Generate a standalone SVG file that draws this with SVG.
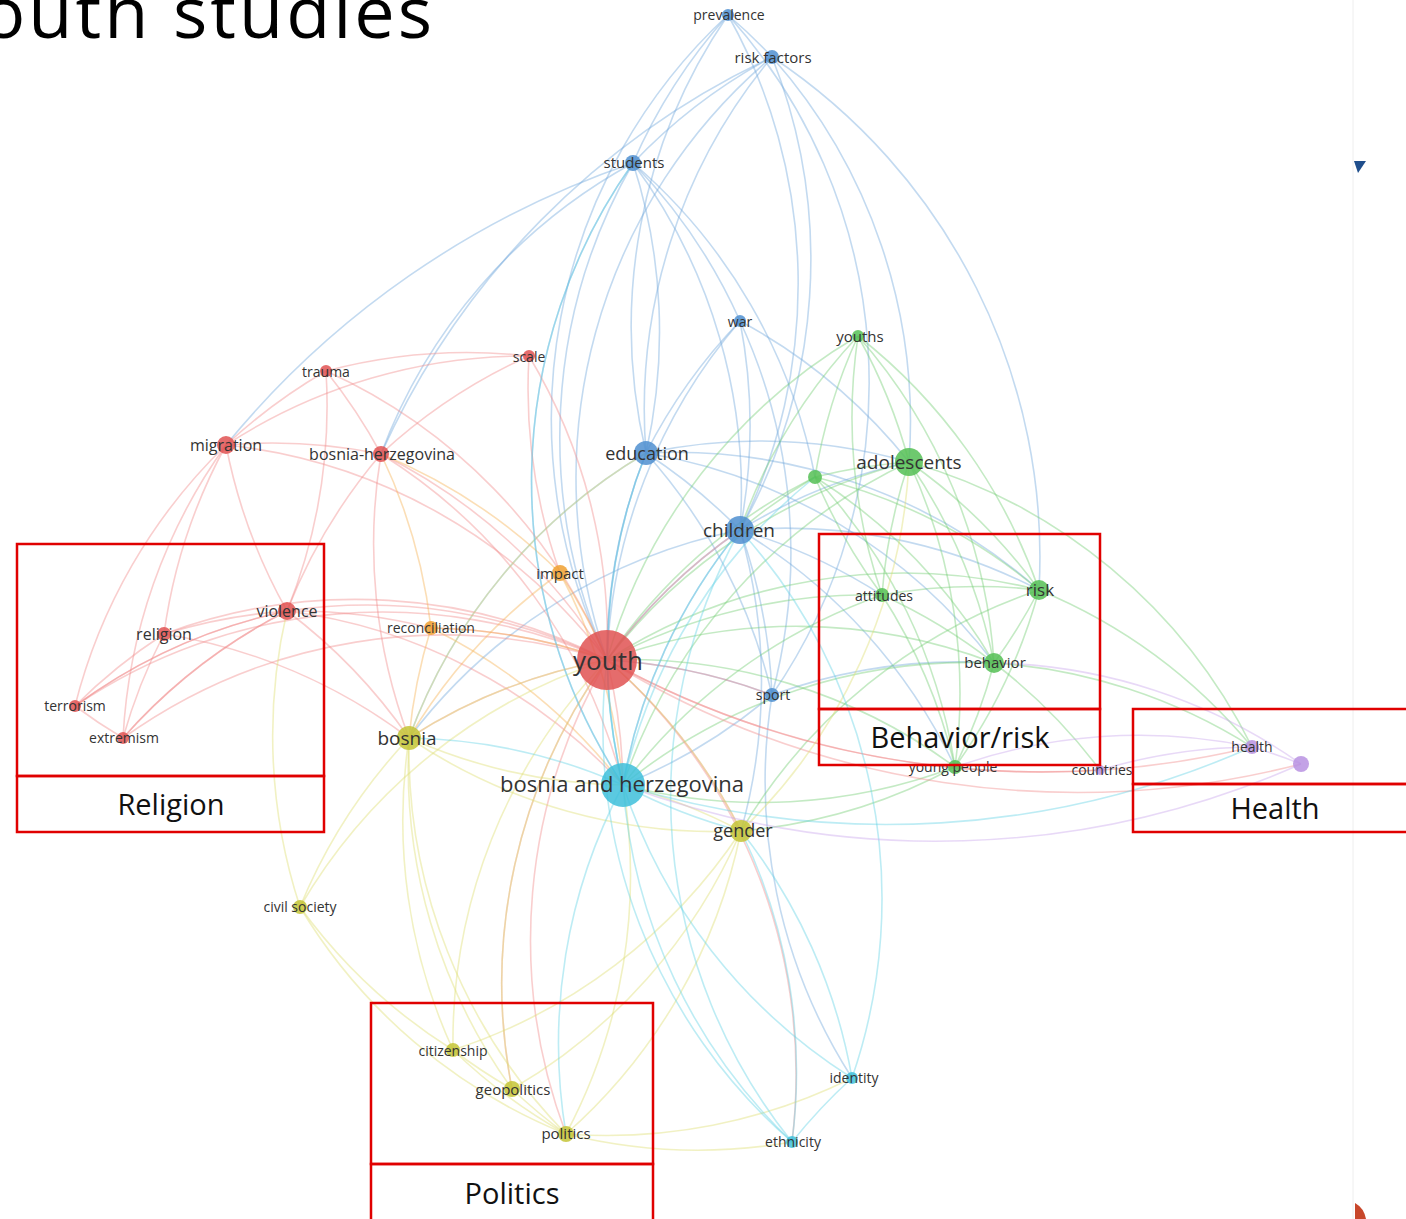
<svg xmlns="http://www.w3.org/2000/svg" width="1406" height="1219" viewBox="0 0 1406 1219">
<style>
.e{fill:none;stroke-width:1.6;stroke-opacity:0.42}
.b{stroke:#6fa8dc}.g{stroke:#72cc72}.r{stroke:#f08a8a}.o{stroke:#f5b050}.y{stroke:#dede70}.c{stroke:#62d2e4}.p{stroke:#c8a4ec}
.nb{fill:#4f8fd0}.ng{fill:#55bf55}.nr{fill:#e05252}.no{fill:#f0a030}.ny{fill:#c4c436}.nc{fill:#3ec0da}.np{fill:#b892e2}
circle{fill-opacity:0.85}
text{font-family:"Open Sans","Noto Sans","DejaVu Sans",sans-serif;fill:#333;text-anchor:middle}
.box{fill:none;stroke:#e00000;stroke-width:2.5}
.bl{font-family:"Open Sans","Noto Sans",sans-serif;font-size:29px;fill:#111}
</style>
<rect width="1406" height="1219" fill="#fff"/>
<line x1="1353" y1="0" x2="1353" y2="1219" stroke="#eeeeee" stroke-width="1"/>
<text x="-18" y="38" letter-spacing="3" style="font-size:72px;fill:#000;text-anchor:start;font-family:'Open Sans','Noto Sans',sans-serif">outh studies</text>
<g id="connectors">
<path class="e b" d="M728 15 A550 550 0 0 1 772 57"/>
<path class="e b" d="M728 15 A550 550 0 0 0 633 163"/>
<path class="e b" d="M728 15 A550 550 0 0 1 740 530"/>
<path class="e b" d="M728 15 A550 550 0 0 0 646 453"/>
<path class="e b" d="M728 15 A550 550 0 0 0 607 660"/>
<path class="e b" d="M728 15 A550 550 0 0 1 772 695"/>
<path class="e b" d="M772 57 A550 550 0 0 0 633 163"/>
<path class="e b" d="M772 57 A550 550 0 0 0 646 453"/>
<path class="e b" d="M772 57 A550 550 0 0 1 740 530"/>
<path class="e b" d="M772 57 A600 600 0 0 1 1039 590"/>
<path class="e b" d="M772 57 A550 550 0 0 1 909 462"/>
<path class="e b" d="M772 57 A550 550 0 0 0 607 660"/>
<path class="e b" d="M772 57 A800 800 0 0 0 381 454"/>
<path class="e b" d="M633 163 A550 550 0 0 0 607 660"/>
<path class="e b" d="M633 163 A550 550 0 0 1 646 453"/>
<path class="e b" d="M633 163 A550 550 0 0 1 740 530"/>
<path class="e b" d="M633 163 A550 550 0 0 0 381 454"/>
<path class="e b" d="M633 163 A550 550 0 0 0 623 785"/>
<path class="e b" d="M633 163 A550 550 0 0 1 740 321"/>
<path class="e b" d="M633 163 A900 900 0 0 0 226 445"/>
<path class="e b" d="M633 163 A550 550 0 0 1 815 477"/>
<path class="e b" d="M740 321 A550 550 0 0 0 646 453"/>
<path class="e b" d="M740 321 A550 550 0 0 1 740 530"/>
<path class="e b" d="M740 321 A550 550 0 0 0 607 660"/>
<path class="e b" d="M740 321 A550 550 0 0 1 909 462"/>
<path class="e b" d="M740 321 A550 550 0 0 1 772 695"/>
<path class="e b" d="M646 453 A550 550 0 0 0 607 660"/>
<path class="e b" d="M646 453 A550 550 0 0 1 740 530"/>
<path class="e b" d="M646 453 A550 550 0 0 0 623 785"/>
<path class="e b" d="M646 453 A550 550 0 0 1 909 462"/>
<path class="e b" d="M646 453 A550 550 0 0 1 1039 590"/>
<path class="e b" d="M646 453 A550 550 0 0 0 409 738"/>
<path class="e b" d="M646 453 A550 550 0 0 1 994 663"/>
<path class="e b" d="M740 530 A550 550 0 0 0 607 660"/>
<path class="e b" d="M740 530 A550 550 0 0 1 909 462"/>
<path class="e b" d="M740 530 A550 550 0 0 0 623 785"/>
<path class="e b" d="M740 530 A550 550 0 0 1 772 695"/>
<path class="e b" d="M740 530 A550 550 0 0 1 1039 590"/>
<path class="e b" d="M740 530 A550 550 0 0 1 882 595"/>
<path class="e b" d="M740 530 A550 550 0 0 1 955 767"/>
<path class="e b" d="M740 530 A550 550 0 0 0 409 738"/>
<path class="e b" d="M740 530 A550 550 0 0 1 741 831"/>
<path class="e b" d="M772 695 A550 550 0 0 0 607 660"/>
<path class="e b" d="M772 695 A550 550 0 0 1 623 785"/>
<path class="e b" d="M772 695 A550 550 0 0 0 646 453"/>
<path class="e b" d="M772 695 A550 550 0 0 1 994 663"/>
<path class="e b" d="M772 695 A550 550 0 0 0 852 1078"/>
<path class="e g" d="M858 336 A550 550 0 0 1 909 462"/>
<path class="e g" d="M858 336 A550 550 0 0 0 815 477"/>
<path class="e g" d="M858 336 A550 550 0 0 0 607 660"/>
<path class="e g" d="M858 336 A550 550 0 0 1 1039 590"/>
<path class="e g" d="M858 336 A550 550 0 0 1 994 663"/>
<path class="e g" d="M858 336 A550 550 0 0 0 882 595"/>
<path class="e g" d="M858 336 A550 550 0 0 0 740 530"/>
<path class="e g" d="M909 462 A550 550 0 0 0 815 477"/>
<path class="e g" d="M909 462 A550 550 0 0 1 1039 590"/>
<path class="e g" d="M909 462 A550 550 0 0 1 994 663"/>
<path class="e g" d="M909 462 A550 550 0 0 0 882 595"/>
<path class="e g" d="M909 462 A550 550 0 0 0 607 660"/>
<path class="e g" d="M909 462 A550 550 0 0 1 955 767"/>
<path class="e g" d="M909 462 A550 550 0 0 0 623 785"/>
<path class="e g" d="M909 462 A550 550 0 0 1 1252 747"/>
<path class="e g" d="M815 477 A550 550 0 0 0 882 595"/>
<path class="e g" d="M815 477 A550 550 0 0 1 994 663"/>
<path class="e g" d="M815 477 A550 550 0 0 1 1039 590"/>
<path class="e g" d="M815 477 A550 550 0 0 0 607 660"/>
<path class="e g" d="M815 477 A550 550 0 0 0 740 530"/>
<path class="e g" d="M815 477 A550 550 0 0 1 955 767"/>
<path class="e g" d="M882 595 A550 550 0 0 1 1039 590"/>
<path class="e g" d="M882 595 A550 550 0 0 1 994 663"/>
<path class="e g" d="M882 595 A550 550 0 0 0 607 660"/>
<path class="e g" d="M882 595 A550 550 0 0 1 955 767"/>
<path class="e g" d="M882 595 A550 550 0 0 0 623 785"/>
<path class="e g" d="M1039 590 A550 550 0 0 1 994 663"/>
<path class="e g" d="M1039 590 A550 550 0 0 1 955 767"/>
<path class="e g" d="M1039 590 A550 550 0 0 1 1252 747"/>
<path class="e g" d="M1039 590 A550 550 0 0 0 607 660"/>
<path class="e g" d="M1039 590 A550 550 0 0 0 741 831"/>
<path class="e g" d="M994 663 A550 550 0 0 1 955 767"/>
<path class="e g" d="M994 663 A550 550 0 0 0 607 660"/>
<path class="e g" d="M994 663 A550 550 0 0 1 1252 747"/>
<path class="e g" d="M994 663 A550 550 0 0 1 1100 770"/>
<path class="e g" d="M994 663 A550 550 0 0 0 623 785"/>
<path class="e g" d="M955 767 A550 550 0 0 0 607 660"/>
<path class="e g" d="M955 767 A550 550 0 0 1 741 831"/>
<path class="e g" d="M955 767 A550 550 0 0 1 623 785"/>
<path class="e r" d="M326 371 A550 550 0 0 0 226 445"/>
<path class="e r" d="M326 371 A550 550 0 0 1 287 611"/>
<path class="e r" d="M326 371 A550 550 0 0 1 381 454"/>
<path class="e r" d="M326 371 A550 550 0 0 1 607 660"/>
<path class="e r" d="M326 371 A550 550 0 0 1 529 356"/>
<path class="e r" d="M529 356 A550 550 0 0 1 607 660"/>
<path class="e r" d="M529 356 A550 550 0 0 0 381 454"/>
<path class="e r" d="M529 356 A550 550 0 0 0 226 445"/>
<path class="e r" d="M529 356 A550 550 0 0 0 560 573"/>
<path class="e r" d="M226 445 A550 550 0 0 0 164 634"/>
<path class="e r" d="M226 445 A550 550 0 0 0 287 611"/>
<path class="e r" d="M226 445 A550 550 0 0 1 607 660"/>
<path class="e r" d="M226 445 A550 550 0 0 1 381 454"/>
<path class="e r" d="M226 445 A550 550 0 0 0 75 706"/>
<path class="e r" d="M226 445 A550 550 0 0 0 123 738"/>
<path class="e r" d="M381 454 A550 550 0 0 1 607 660"/>
<path class="e r" d="M381 454 A550 550 0 0 0 287 611"/>
<path class="e r" d="M381 454 A550 550 0 0 1 623 785"/>
<path class="e r" d="M381 454 A550 550 0 0 0 409 738"/>
<path class="e r" d="M287 611 A550 550 0 0 0 164 634"/>
<path class="e r" d="M287 611 A550 550 0 0 0 75 706"/>
<path class="e r" d="M287 611 A550 550 0 0 0 123 738"/>
<path class="e r" d="M287 611 A550 550 0 0 1 607 660"/>
<path class="e r" d="M287 611 A550 550 0 0 1 409 738"/>
<path class="e r" d="M287 611 A550 550 0 0 1 431 628"/>
<path class="e r" d="M287 611 A550 550 0 0 1 623 785"/>
<path class="e r" d="M164 634 A550 550 0 0 0 75 706"/>
<path class="e r" d="M164 634 A550 550 0 0 0 123 738"/>
<path class="e r" d="M164 634 A550 550 0 0 1 607 660"/>
<path class="e r" d="M164 634 A550 550 0 0 1 409 738"/>
<path class="e r" d="M75 706 A550 550 0 0 0 123 738"/>
<path class="e r" d="M75 706 A550 550 0 0 1 607 660"/>
<path class="e r" d="M75 706 A550 550 0 0 1 287 611"/>
<path class="e r" d="M123 738 A550 550 0 0 1 607 660"/>
<path class="e r" d="M123 738 A550 550 0 0 1 287 611"/>
<path class="e r" d="M607 660 A550 550 0 0 0 431 628"/>
<path class="e r" d="M607 660 A550 550 0 0 0 409 738"/>
<path class="e r" d="M607 660 A550 550 0 0 1 741 831"/>
<path class="e r" d="M607 660 A550 550 0 0 1 623 785"/>
<path class="e r" d="M607 660 A900 900 0 0 0 1301 764"/>
<path class="e r" d="M607 660 A900 900 0 0 0 1100 770"/>
<path class="e r" d="M607 660 A550 550 0 0 1 772 695"/>
<path class="e r" d="M607 660 A550 550 0 0 0 566 1134"/>
<path class="e r" d="M607 660 A550 550 0 0 0 512 1089"/>
<path class="e r" d="M607 660 A550 550 0 0 1 792 1142"/>
<path class="e r" d="M607 660 A550 550 0 0 1 740 530"/>
<path class="e r" d="M607 660 A900 900 0 0 0 1252 747"/>
<path class="e o" d="M560 573 A550 550 0 0 1 607 660"/>
<path class="e o" d="M560 573 A550 550 0 0 0 409 738"/>
<path class="e o" d="M560 573 A550 550 0 0 1 623 785"/>
<path class="e o" d="M560 573 A550 550 0 0 0 381 454"/>
<path class="e o" d="M431 628 A550 550 0 0 1 607 660"/>
<path class="e o" d="M431 628 A550 550 0 0 0 409 738"/>
<path class="e o" d="M431 628 A550 550 0 0 1 623 785"/>
<path class="e o" d="M431 628 A550 550 0 0 0 381 454"/>
<path class="e y" d="M409 738 A550 550 0 0 0 300 907"/>
<path class="e y" d="M409 738 A550 550 0 0 0 453 1050"/>
<path class="e y" d="M409 738 A550 550 0 0 0 512 1089"/>
<path class="e y" d="M409 738 A550 550 0 0 0 566 1134"/>
<path class="e y" d="M409 738 A550 550 0 0 0 623 785"/>
<path class="e y" d="M409 738 A550 550 0 0 1 607 660"/>
<path class="e y" d="M409 738 A550 550 0 0 0 741 831"/>
<path class="e y" d="M409 738 A550 550 0 0 1 646 453"/>
<path class="e y" d="M741 831 A550 550 0 0 0 623 785"/>
<path class="e y" d="M741 831 A550 550 0 0 1 566 1134"/>
<path class="e y" d="M741 831 A550 550 0 0 1 512 1089"/>
<path class="e y" d="M741 831 A550 550 0 0 1 453 1050"/>
<path class="e y" d="M741 831 A550 550 0 0 0 607 660"/>
<path class="e y" d="M741 831 A550 550 0 0 0 909 462"/>
<path class="e y" d="M300 907 A550 550 0 0 0 453 1050"/>
<path class="e y" d="M300 907 A550 550 0 0 1 287 611"/>
<path class="e y" d="M300 907 A550 550 0 0 1 607 660"/>
<path class="e y" d="M300 907 A550 550 0 0 0 566 1134"/>
<path class="e y" d="M453 1050 A550 550 0 0 0 512 1089"/>
<path class="e y" d="M512 1089 A550 550 0 0 0 566 1134"/>
<path class="e y" d="M453 1050 A550 550 0 0 0 566 1134"/>
<path class="e y" d="M566 1134 A550 550 0 0 0 623 785"/>
<path class="e y" d="M512 1089 A550 550 0 0 1 607 660"/>
<path class="e y" d="M453 1050 A550 550 0 0 1 607 660"/>
<path class="e y" d="M566 1134 A550 550 0 0 0 792 1142"/>
<path class="e y" d="M566 1134 A550 550 0 0 0 852 1078"/>
<path class="e c" d="M623 785 A550 550 0 0 1 607 660"/>
<path class="e c" d="M623 785 A550 550 0 0 0 792 1142"/>
<path class="e c" d="M623 785 A550 550 0 0 0 852 1078"/>
<path class="e c" d="M623 785 A550 550 0 0 0 741 831"/>
<path class="e c" d="M623 785 A550 550 0 0 1 740 530"/>
<path class="e c" d="M623 785 A900 900 0 0 0 1252 747"/>
<path class="e c" d="M623 785 A550 550 0 0 0 566 1134"/>
<path class="e c" d="M623 785 A550 550 0 0 1 646 453"/>
<path class="e c" d="M623 785 A550 550 0 0 0 409 738"/>
<path class="e c" d="M623 785 A550 550 0 0 1 815 477"/>
<path class="e c" d="M623 785 A550 550 0 0 1 633 163"/>
<path class="e c" d="M852 1078 A550 550 0 0 0 792 1142"/>
<path class="e c" d="M852 1078 A550 550 0 0 0 741 831"/>
<path class="e c" d="M852 1078 A550 550 0 0 0 740 530"/>
<path class="e c" d="M792 1142 A550 550 0 0 1 607 660"/>
<path class="e c" d="M792 1142 A550 550 0 0 0 741 831"/>
<path class="e c" d="M792 1142 A550 550 0 0 1 740 530"/>
<path class="e p" d="M1252 747 A550 550 0 0 1 1301 764"/>
<path class="e p" d="M1252 747 A550 550 0 0 0 1100 770"/>
<path class="e p" d="M1301 764 A900 900 0 0 1 623 785"/>
<path class="e p" d="M1301 764 A550 550 0 0 0 994 663"/>
<path class="e p" d="M1252 747 A550 550 0 0 0 955 767"/>
</g>
<g id="n-prevalence"><circle class="nb" cx="728" cy="15" r="6"/><text x="729" y="20" font-size="14">prevalence</text></g>
<g id="n-risk-factors"><circle class="nb" cx="772" cy="57" r="7"/><text x="773" y="63" font-size="15">risk factors</text></g>
<g id="n-students"><circle class="nb" cx="633" cy="163" r="8"/><text x="634" y="168" font-size="15">students</text></g>
<g id="n-war"><circle class="nb" cx="740" cy="321" r="6"/><text x="740" y="327" font-size="14">war</text></g>
<g id="n-youths"><circle class="ng" cx="858" cy="336" r="6"/><text x="860" y="342" font-size="15">youths</text></g>
<g id="n-scale"><circle class="nr" cx="529" cy="356" r="6"/><text x="529" y="362" font-size="14">scale</text></g>
<g id="n-trauma"><circle class="nr" cx="326" cy="371" r="6"/><text x="326" y="377" font-size="14">trauma</text></g>
<g id="n-migration"><circle class="nr" cx="226" cy="445" r="9"/><text x="226" y="451" font-size="16">migration</text></g>
<g id="n-bosnia-herzegovina"><circle class="nr" cx="381" cy="454" r="8"/><text x="382" y="460" font-size="16">bosnia-herzegovina</text></g>
<g id="n-education"><circle class="nb" cx="646" cy="453" r="12"/><text x="647" y="460" font-size="18">education</text></g>
<g id="n-adolescents"><circle class="ng" cx="909" cy="462" r="14"/><text x="909" y="469" font-size="19">adolescents</text></g>
<g id="n-green"><circle class="ng" cx="815" cy="477" r="7"/></g>
<g id="n-children"><circle class="nb" cx="740" cy="530" r="14"/><text x="739" y="537" font-size="19">children</text></g>
<g id="n-impact"><circle class="no" cx="560" cy="573" r="8"/><text x="560" y="579" font-size="15">impact</text></g>
<g id="n-attitudes"><circle class="ng" cx="882" cy="595" r="7"/><text x="884" y="601" font-size="14">attitudes</text></g>
<g id="n-risk"><circle class="ng" cx="1039" cy="590" r="10"/><text x="1040" y="596" font-size="17">risk</text></g>
<g id="n-violence"><circle class="nr" cx="287" cy="611" r="9"/><text x="287" y="617" font-size="16">violence</text></g>
<g id="n-reconciliation"><circle class="no" cx="431" cy="628" r="7"/><text x="431" y="633" font-size="14">reconciliation</text></g>
<g id="n-religion"><circle class="nr" cx="164" cy="634" r="7"/><text x="164" y="640" font-size="16">religion</text></g>
<g id="n-youth"><circle class="nr" cx="607" cy="660" r="30"/><text x="608" y="670" font-size="26">youth</text></g>
<g id="n-behavior"><circle class="ng" cx="994" cy="663" r="10"/><text x="995" y="668" font-size="15">behavior</text></g>
<g id="n-sport"><circle class="nb" cx="772" cy="695" r="7"/><text x="773" y="700" font-size="14">sport</text></g>
<g id="n-terrorism"><circle class="nr" cx="75" cy="706" r="6"/><text x="75" y="711" font-size="14">terrorism</text></g>
<g id="n-extremism"><circle class="nr" cx="123" cy="738" r="6"/><text x="124" y="743" font-size="14">extremism</text></g>
<g id="n-bosnia"><circle class="ny" cx="409" cy="738" r="12"/><text x="407" y="745" font-size="19">bosnia</text></g>
<g id="n-health"><circle class="np" cx="1252" cy="747" r="7"/><text x="1252" y="752" font-size="14">health</text></g>
<g id="n-purple"><circle class="np" cx="1301" cy="764" r="8"/></g>
<g id="n-young-people"><circle class="ng" cx="955" cy="767" r="7"/><text x="953" y="772" font-size="14">young people</text></g>
<g id="n-countries"><circle class="np" cx="1100" cy="770" r="5"/><text x="1102" y="775" font-size="14">countries</text></g>
<g id="n-bosnia-and-herzegovina"><circle class="nc" cx="623" cy="785" r="22"/><text x="622" y="792" font-size="22">bosnia and herzegovina</text></g>
<g id="n-gender"><circle class="ny" cx="741" cy="831" r="11"/><text x="743" y="837" font-size="18">gender</text></g>
<g id="n-civil-society"><circle class="ny" cx="300" cy="907" r="7"/><text x="300" y="912" font-size="14">civil society</text></g>
<g id="n-citizenship"><circle class="ny" cx="453" cy="1050" r="7"/><text x="453" y="1056" font-size="14">citizenship</text></g>
<g id="n-identity"><circle class="nc" cx="852" cy="1078" r="6"/><text x="854" y="1083" font-size="14">identity</text></g>
<g id="n-geopolitics"><circle class="ny" cx="512" cy="1089" r="8"/><text x="513" y="1095" font-size="15">geopolitics</text></g>
<g id="n-politics"><circle class="ny" cx="566" cy="1134" r="8"/><text x="566" y="1139" font-size="15">politics</text></g>
<g id="n-ethnicity"><circle class="nc" cx="792" cy="1142" r="6"/><text x="793" y="1147" font-size="14">ethnicity</text></g>
<g id="box-religion"><rect class="box" x="17" y="544" width="307" height="232"/><rect class="box" x="17" y="776" width="307" height="56"/><text class="bl" x="171" y="815">Religion</text></g>
<g id="box-behavior"><rect class="box" x="819" y="534" width="281" height="175"/><rect class="box" x="819" y="709" width="281" height="56"/><text class="bl" x="960" y="748">Behavior/risk</text></g>
<g id="box-health"><rect class="box" x="1133" y="709" width="280" height="75"/><rect class="box" x="1133" y="784" width="280" height="48"/><text class="bl" x="1275" y="819">Health</text></g>
<g id="box-politics"><rect class="box" x="371" y="1003" width="282" height="161"/><rect class="box" x="371" y="1164" width="282" height="60"/><text class="bl" x="512" y="1204">Politics</text></g>
<polygon points="1354,161 1366,161 1358,173" fill="#1f4e8c"/>
<path d="M1355 1203 Q1364 1208 1366 1219 L1355 1219 Z" fill="#c8462a"/>
</svg>
